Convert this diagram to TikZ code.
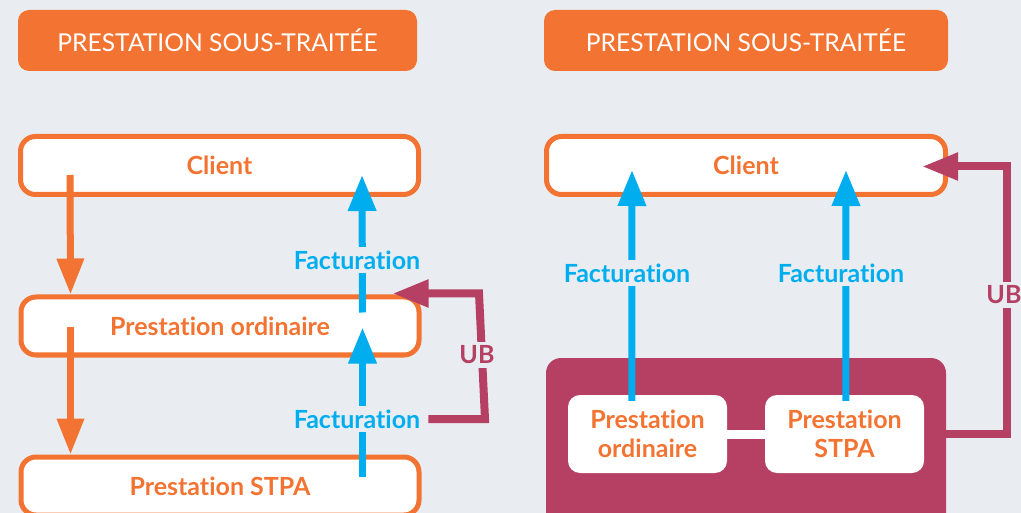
\documentclass[tikz,border=0pt]{standalone}
\usepackage{fontspec}
\setmainfont{Lato}[Ligatures={NoCommon,NoRequired,NoContextual}]
\usetikzlibrary{arrows.meta,calc}
\definecolor{bgc}{RGB}{233,237,241}
\definecolor{ora}{RGB}{243,116,50}
\definecolor{blu}{RGB}{0,174,239}
\definecolor{mag}{RGB}{181,64,99}
\begin{document}
\begin{tikzpicture}[x=1pt,y=-1pt,
  header/.style={fill=ora,rounded corners=11pt,minimum width=399pt,minimum height=61pt,
    text=white,font=\fontsize{24.6}{28}\selectfont},
  box/.style={draw=ora,line width=5pt,fill=white,rounded corners=15pt,
    minimum width=398pt,minimum height=58pt,text=ora,font=\bfseries\fontsize{25}{28}\selectfont},
  inbox/.style={fill=white,rounded corners=12pt,minimum width=159pt,minimum height=78pt,
    text=ora,align=center,font=\bfseries\fontsize{25}{29}\selectfont},
  lab/.style={fill=bgc,inner xsep=2pt,inner ysep=4pt,font=\bfseries\fontsize{25}{28}\selectfont},
  flow/.style={line width=7pt,draw=ora,-{Triangle[length=36pt,width=26pt]}},
  bill/.style={line width=7pt,draw=blu,-{Triangle[length=36pt,width=27pt]}},
  ub/.style={line width=8pt,draw=mag,-{Triangle[length=36pt,width=26pt]}},
]
\clip (0,0) rectangle (1021,513);
\fill[bgc] (0,0) rectangle (1021,513);

% ---- left panel: chain of services
\node[header] (h1) at (217.5,40.5) {PRESTATION SOUS-TRAITÉE};
\node[box] (cl1) at (219.5,165.5) {Client};
\node[box] (po1) at (220,326) {Prestation ordinaire};
\node[box] (st1) at (220,486) {Prestation STPA};

\draw[flow] ($(cl1.south west)+(52,-22)$) -- ($(po1.north west)+(52,0)$);
\draw[flow] ($(po1.south west)+(52,-30)$) -- ($(st1.north west)+(52,0)$);

\draw[bill] ($(st1.north west)+(344,22)$) -- ($(po1.south west)+(344,-30)$);
\draw[bill] ($(po1.north west)+(344,18)$) -- ($(cl1.south west)+(344,-22)$);

\node[lab,text=blu] (f1) at (357,260) {Facturation};
\node[lab,text=blu] (f2) at (357,419) {Facturation};

\coordinate (u1) at (479,0);
\coordinate (t1) at ($(po1.north east)+(-29,-1)$);
\draw[ub] ([xshift=6pt]f2.east) -- ([xshift=6pt]f2.east -| u1) -- (u1 |- t1) -- (t1);
\node[lab,text=mag] (ub1) at (477,355) {UB};

% ---- right panel: grouped services
\node[header,minimum width=404pt] (h2) at (746,40.5) {PRESTATION SOUS-TRAITÉE};
\node[box,minimum width=399pt] (cl2) at (746,165.5) {Client};
\node[fill=mag,rounded corners=15pt,minimum width=400pt,minimum height=172pt] (grp) at (746,444) {};
\node[inbox] (po2) at (647.5,434) {Prestation\\ordinaire};
\node[inbox] (st2) at (844.5,434) {Prestation\\STPA};
\draw[white,line width=9pt] (po2.east) -- (st2.west);

\draw[bill] ($(po2.north west)+(64,6)$) -- ($(cl2.south west)+(88,-27)$);
\draw[bill] ($(st2.north west)+(81,6)$) -- ($(cl2.south west)+(302,-27)$);

\node[lab,text=blu] (f3) at (627,273) {Facturation};
\node[lab,text=blu] (f4) at (841,273) {Facturation};

\coordinate (u2) at (1007,0);
\coordinate (t2) at ($(cl2.east)+(-26,1)$);
\draw[ub] (st2 -| grp.east) -- (st2 -| u2) -- (u2 |- t2) -- (t2);
\node[lab,text=mag] (ub2) at (1004,295) {UB};
\end{tikzpicture}
\end{document}
